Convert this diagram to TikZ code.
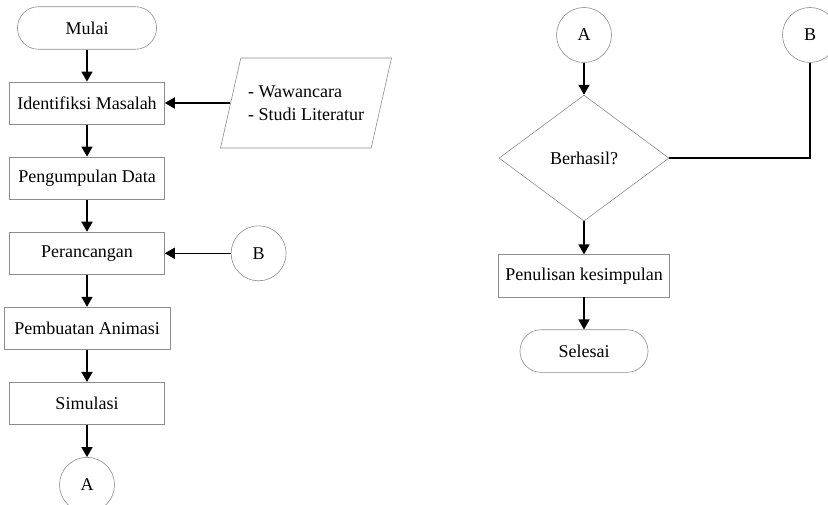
\documentclass[tikz,border=0pt]{standalone}
\usepackage{fontspec}
\setmainfont{Liberation Serif}
\usetikzlibrary{
    arrows.meta,
    positioning,
    shapes.geometric % diamond dan trapezium
}
\tikzset{
    base/.style={
        draw=black!45,
        line width=0.6pt,
        font=\fontsize{18}{23}\selectfont,
        align=center
    },
    terminal/.style={
        base,
        rectangle,
        rounded corners=21pt,
        minimum height=42.5pt
    },
    process/.style={
        base,
        rectangle,
        minimum width=155pt,
        minimum height=42.5pt,
        inner xsep=6pt
    },
    data/.style={
        base,
        trapezium,
        trapezium left angle=64,
        trapezium right angle=116,
        trapezium stretches body=true,
        minimum width=171pt,
        minimum height=90pt,
        align=left
    },
    decision/.style={
        base,
        diamond,
        minimum width=170pt,
        minimum height=126pt
    },
    connector/.style={
        base,
        circle,
        minimum size=55pt,
        inner sep=0pt
    },
    flow/.style={
        -{Triangle[length=10pt, width=11pt]},
        line width=1.4pt
    },
    link/.style={
        line width=1.4pt
    }
}

\begin{document}
\begin{tikzpicture}[x=1pt, y=-1pt, node distance=32pt]
        \useasboundingbox (0,0) rectangle (828,505);

        % Kolom kiri
        \node [terminal, minimum width=139pt] (mulai) at (87,28) {Mulai};
        \node [process, below=of mulai] (identifikasi) {Identifiksi Masalah};
        \node [process, below=of identifikasi] (pengumpulan) {Pengumpulan Data};
        \node [process, below=of pengumpulan] (perancangan) {Perancangan};
        \node [process, below=of perancangan, minimum width=166pt] (pembuatan) {Pembuatan Animasi};
        \node [process, below=of pembuatan] (simulasi) {Simulasi};
        \node [connector, below=of simulasi] (a_bawah) {A};

        % Masukan dan penghubung B
        \node [data] (masukan) at (306,103) {- Wawancara\\- Studi Literatur};
        \node [connector, right=66pt of perancangan] (b_kiri) {B};

        % Kolom kanan
        \node [connector] (a_atas) at (584,35) {A};
        \node [decision, below=of a_atas] (berhasil) {Berhasil?};
        \node [process, below=33pt of berhasil, minimum width=171pt] (penulisan) {Penulisan kesimpulan};
        \node [terminal, below=of penulisan, minimum width=128pt] (selesai) {Selesai};
        \node [connector] (b_kanan) at (810,35) {B};

        % Alur kiri
        \draw [flow] (mulai.south) -- (identifikasi.north);
        \draw [flow] (identifikasi.south) -- (pengumpulan.north);
        \draw [flow] (pengumpulan.south) -- (perancangan.north);
        \draw [flow] (perancangan.south) -- (pembuatan.north);
        \draw [flow] (pembuatan.south) -- (simulasi.north);
        \draw [flow] (simulasi.south) -- (a_bawah.north);
        \draw [flow] (masukan.west) -- (masukan.west -| identifikasi.east);
        \draw [flow] (b_kiri.west) -- (perancangan.east);

        % Alur kanan
        \draw [flow] (a_atas.south) -- (berhasil.north);
        \draw [flow] (berhasil.south) -- (penulisan.north);
        \draw [flow] (penulisan.south) -- (selesai.north);
        \draw [link] (berhasil.east) -| (b_kanan.south);
    \end{tikzpicture}
\end{document}
